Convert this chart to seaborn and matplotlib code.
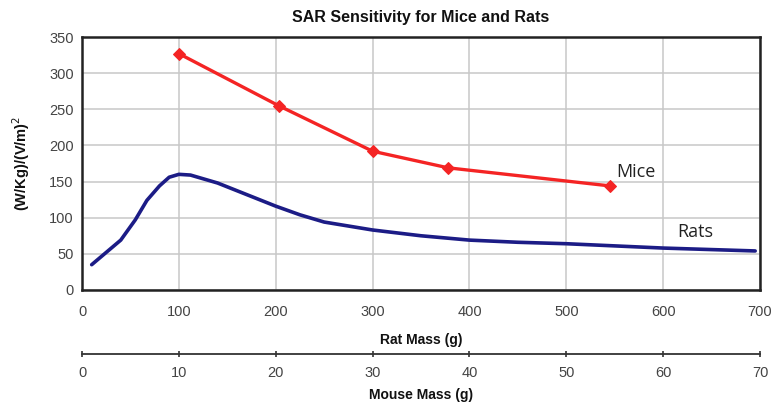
import matplotlib
matplotlib.use("Agg")
import matplotlib.pyplot as plt
import seaborn as sns
import pandas as pd

# Data
mice_rat_mass = [100, 203, 300, 378, 545]
mice_sar = [327, 255, 192, 169, 144]

rats_mass = [10, 25, 40, 55, 67, 80, 90, 100, 112, 140, 170, 200, 225, 250, 300, 350, 400, 450, 500, 600, 695]
rats_sar = [35, 52, 69, 97, 124, 144, 156, 160, 159, 148, 132, 116, 104, 94, 83, 75, 69, 66, 64, 58, 54]

x_ticks = [0, 100, 200, 300, 400, 500, 600, 700]
y_ticks = [0, 50, 100, 150, 200, 250, 300, 350]
mouse_ticks = [0, 10, 20, 30, 40, 50, 60, 70]

sns.set_style("white")
plt.rcParams['font.family'] = ['Liberation Sans', 'DejaVu Sans']

fig = plt.figure(figsize=(7.78, 4.09), dpi=100)
ax = fig.add_axes([0.1054, 0.2910, 0.8715, 0.6185])

mice_df = pd.DataFrame({"x": mice_rat_mass, "y": mice_sar})
rats_df = pd.DataFrame({"x": rats_mass, "y": rats_sar})

sns.lineplot(data=rats_df, x="x", y="y", ax=ax, color="#1c1c86", linewidth=2.6, sort=False)
sns.lineplot(data=mice_df, x="x", y="y", ax=ax, color="#f42424", linewidth=2.4,
             marker="D", markersize=6, markeredgecolor="#f42424", sort=False)

ax.set_xlim(0, 700)
ax.set_ylim(0, 350)
ax.set_xticks(x_ticks)
ax.set_yticks(y_ticks)
ax.grid(True, color="#c8c8c8", linewidth=1.1)
for s in ax.spines.values():
    s.set_visible(True)
    s.set_color("#222222")
    s.set_linewidth(1.8)

ax.tick_params(axis="both", which="both", direction="out", length=4, width=1.2,
               colors="#222222", labelcolor="#444444", labelsize=10.5)
ax.tick_params(axis="y", pad=2)
ax.tick_params(axis="x", pad=7)
ax.set_xlabel("Rat Mass (g)", fontsize=10, fontweight="bold", color="#111111", labelpad=10)
ax.set_ylabel("(W/Kg)/(V/m)$^2$", fontsize=10.5, fontweight="bold", color="#111111", labelpad=12)
ax.set_title("SAR Sensitivity for Mice and Rats", fontsize=11.5, fontweight="bold",
             color="#111111", pad=11)

ax.text(552, 163, "Mice", fontsize=13, family=["Open Sans", "DejaVu Sans"],
        color="#222222", va="center", ha="left")
ax.text(615, 80, "Rats", fontsize=13, family=["Open Sans", "DejaVu Sans"],
        color="#222222", va="center", ha="left")

sec = ax.secondary_xaxis(-0.253, functions=(lambda x: x / 10, lambda x: x * 10))
sec.set_xticks(mouse_ticks)
sec.spines["bottom"].set_color("#333333")
sec.spines["bottom"].set_linewidth(1.3)
sec.tick_params(direction="inout", length=5, width=1.2, colors="#333333",
                labelcolor="#444444", labelsize=10.5, pad=6)
sec.set_xlabel("Mouse Mass (g)", fontsize=10, fontweight="bold", color="#111111", labelpad=6)

fig.savefig("out.png", dpi=100)
